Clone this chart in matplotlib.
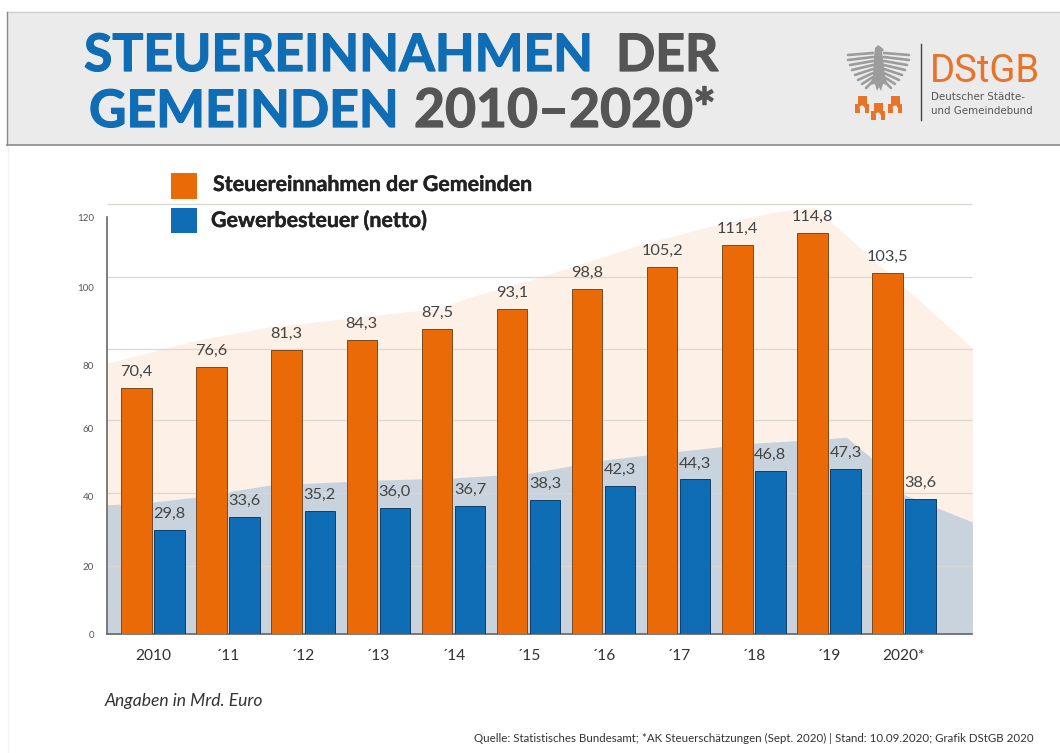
#!/usr/bin/env python3
"""Steuereinnahmen der Gemeinden 2010-2020, bar chart on two backdrop areas."""

import matplotlib
matplotlib.use('Agg')
import matplotlib.pyplot as plt
import matplotlib.patheffects as pe
from matplotlib.patches import Polygon, Rectangle, Wedge

# ---- data ----
YEARS = ['2010', '´11', '´12', '´13', '´14', '´15', '´16', '´17', '´18', '´19', '2020*']
TOTAL = [70.4, 76.6, 81.3, 84.3, 87.5, 93.1, 98.8, 105.2, 111.4, 114.8, 103.5]
TRADE = [29.8, 33.6, 35.2, 36.0, 36.7, 38.3, 42.3, 44.3, 46.8, 47.3, 38.6]

# backdrop areas
AREA_TOTAL_X = [-0.61, 0.59, 1.56, 2.76, 3.82, 4.22, 5.15, 6.49, 7.38, 8.26, 8.81, 10.91]
AREA_TOTAL_Y = [77.6, 84.2, 88.0, 90.8, 93.4, 96.5, 102.3, 111.5, 116.6, 120.9, 122.3, 81.9]
AREA_TRADE_X = [-0.61, 0.0, 0.59, 1.56, 3.0, 3.99, 5.02, 6.02, 7.02, 8.02, 8.96, 9.23, 9.55, 10.01, 10.91]
AREA_TRADE_Y = [37.0, 37.8, 39.3, 42.7, 44.1, 44.7, 46.1, 49.9, 52.4, 54.7, 55.9, 56.4, 50.7, 39.8, 32.1]

# the printed axis labels and gridlines do not line up with the bar scale
Y_LABELS = ['0', '20', '40', '60', '80', '100', '120']
Y_LABEL_POS = [0, 19.2, 39.3, 59.0, 76.8, 99.4, 119.2]
GRID_POS = [19.6, 40.4, 61.3, 81.7, 102.4, 123.2]

ORANGE = '#EA6A08'
BLUE = '#0F6DB5'
GREY_TXT = '#444444'
LOGO_ORANGE = '#E8742A'
BAND = '#EBEBEB'
FONT = 'Lato'

W, H = 1060, 753
fig = plt.figure(figsize=(W / 100, H / 100), dpi=100, facecolor='white')

# ---- main chart, axes box in pixels: x 107-972, y 204-634 ----
ax = fig.add_axes([107 / W, 1 - 634 / H, 865 / W, 430 / H], zorder=2)
ax.patch.set_visible(False)
ax.set_xlim(-0.6125, 10.905)
ax.set_ylim(0, 123.2)

ax.fill_between(AREA_TOTAL_X, AREA_TOTAL_Y, color='#FDF0E6', lw=0, zorder=1)
ax.fill_between(AREA_TRADE_X, AREA_TRADE_Y, color='#C8D3DD', lw=0, zorder=1.5)
ax.hlines(GRID_POS, -0.6125, 10.905, color='#DBD7D3', lw=0.9, zorder=2, clip_on=False)

xs = list(range(len(YEARS)))
bars1 = ax.bar([x - 0.22 for x in xs], TOTAL, width=0.405, color=ORANGE,
               edgecolor='#7A4A20', lw=0.7, zorder=3)
bars2 = ax.bar([x + 0.22 for x in xs], TRADE, width=0.405, color=BLUE,
               edgecolor='#123F66', lw=0.7, zorder=3)

for bars, vals in ((bars1, TOTAL), (bars2, TRADE)):
    for b, v in zip(bars, vals):
        ax.annotate(f'{v:.1f}'.replace('.', ','),
                    (b.get_x() + b.get_width() / 2, v),
                    xytext=(0, 11.5), textcoords='offset points',
                    ha='center', va='center', fontsize=11.8,
                    family=FONT, color=GREY_TXT, zorder=4)

ax.set_xticks(xs)
ax.set_xticklabels(YEARS, family=FONT, fontsize=11.2, color='#333333')
ax.tick_params(axis='x', length=0, pad=10.5)
ax.set_yticks(Y_LABEL_POS)
ax.set_yticklabels(Y_LABELS, family=FONT, fontsize=7, color='#555555')
ax.tick_params(axis='y', length=0, pad=9.5)

for s in ('top', 'right'):
    ax.spines[s].set_visible(False)
for s in ('left', 'bottom'):
    ax.spines[s].set_color('#666666')
    ax.spines[s].set_linewidth(1.2)
ax.spines['left'].set_bounds(0, 119.5)

# ---- everything else is placed in pixel coordinates ----
ov = fig.add_axes([0, 0, 1, 1], zorder=3)
ov.patch.set_visible(False)
ov.set_xlim(0, W)
ov.set_ylim(H, 0)
ov.axis('off')

# header band
ov.add_patch(Rectangle((7, 12), W - 7, 133, facecolor=BAND, edgecolor='none'))
ov.plot([7, W], [12, 12], color='#CFCFCF', lw=1)
ov.plot([7, W], [145, 145], color='#8A8A8A', lw=1.2)
ov.plot([7, 7], [12, 145], color='#8A8A8A', lw=1)
ov.plot([7.5, 7.5], [146, H], color='#F2F2F2', lw=1)

for x, y, txt, col, size in ((84, 71, 'STEUEREINNAHMEN', BLUE, 37.2),
                             (616, 71, 'DER', '#555555', 37.2),
                             (89, 127, 'GEMEINDEN', BLUE, 37.2),
                             (414, 127, '2010–2020*', '#555555', 38.5)):
    t = ov.text(x, y, txt, family=FONT, fontweight='bold', fontsize=size,
                color=col, ha='left', va='baseline')
    t.set_path_effects([pe.withStroke(linewidth=0.9, foreground=col)])

# logo: eagle
EAGLE_GREY = '#9C9C9C'
ov.add_patch(Polygon([(874, 56), (875, 48), (878, 45), (881, 47), (884, 50), (882, 52),
                      (883, 58), (885, 76), (888, 85), (883, 84), (881, 91), (879, 87),
                      (877, 91), (875, 84), (870, 85), (873, 76)],
                     closed=True, facecolor=EAGLE_GREY, edgecolor='none'))
for x0, y0, x1, y1 in ((873, 53, 848, 55), (873, 57, 848, 60), (873, 61, 850, 65),
                       (873, 65, 852, 70), (873, 69, 855, 75), (873, 73, 858, 80),
                       (873, 77, 862, 84), (874, 80, 866, 88)):
    ov.plot([x0, x1], [y0, y1], color=EAGLE_GREY, lw=1.9, solid_capstyle='round')
    ov.plot([2 * 878.5 - x0, 2 * 878.5 - x1], [y0, y1], color=EAGLE_GREY, lw=1.9,
            solid_capstyle='round')

# logo: three towers
for cx, base in ((862, 113), (878, 120), (895, 113)):
    ov.add_patch(Rectangle((cx - 7, base - 9), 14, 9, facecolor=LOGO_ORANGE, edgecolor='none'))
    ov.add_patch(Rectangle((cx - 4.5, base - 17), 9, 9, facecolor=LOGO_ORANGE, edgecolor='none'))
    ov.add_patch(Rectangle((cx - 2.5, base - 5), 5, 5, facecolor=BAND, edgecolor='none'))
    ov.add_patch(Wedge((cx, base - 5), 2.5, 180, 360, facecolor=BAND, edgecolor='none'))

ov.plot([921, 921], [44, 120], color='#444444', lw=1)
ov.text(930, 82, 'DStGB', family='Roboto', fontsize=27.5,
        color=LOGO_ORANGE, ha='left', va='baseline')
ov.text(931, 96.5, 'Deutscher Städte-', family='DejaVu Sans', fontsize=7.4,
        color='#555555', ha='left', va='center')
ov.text(931, 110.5, 'und Gemeindebund', family='DejaVu Sans', fontsize=7.4,
        color='#555555', ha='left', va='center')

# legend
ov.add_patch(Rectangle((171, 173), 26, 26, facecolor=ORANGE, edgecolor='none'))
ov.add_patch(Rectangle((171, 208), 26, 25, facecolor=BLUE, edgecolor='none'))
for x, y, txt in ((213, 185, 'Steuereinnahmen der Gemeinden'),
                  (211, 221, 'Gewerbesteuer (netto)')):
    t = ov.text(x, y, txt, family=FONT, fontweight='bold', fontsize=15.4,
                color='#222222', ha='left', va='center')
    t.set_path_effects([pe.withStroke(linewidth=0.3, foreground='#222222')])

# notes
ov.text(105, 701, 'Angaben in Mrd. Euro', family=FONT, style='italic', fontsize=12.6,
        color='#333333', ha='left', va='center')
ov.text(1034, 738, 'Quelle: Statistisches Bundesamt; *AK Steuerschätzungen (Sept. 2020) | '
        'Stand: 10.09.2020; Grafik DStGB 2020', family=FONT, fontsize=8.3,
        color='#333333', ha='right', va='center')

fig.savefig('out.png', dpi=100)
